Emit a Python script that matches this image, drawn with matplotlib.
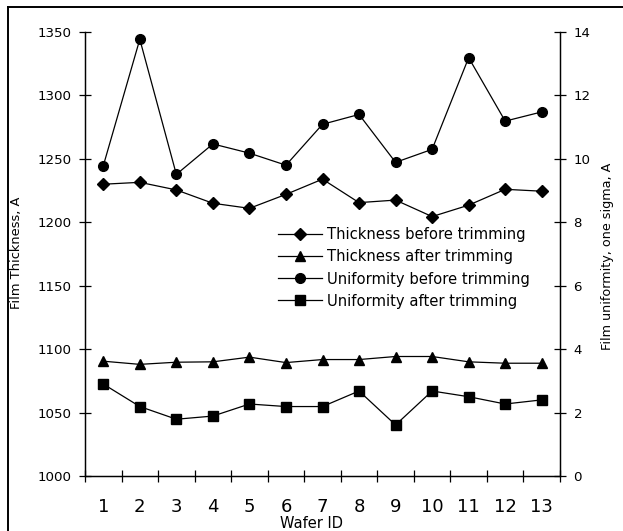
import matplotlib
matplotlib.use("Agg")
import matplotlib.pyplot as plt
from matplotlib.lines import Line2D
from matplotlib.ticker import FixedLocator, MultipleLocator

plt.rcParams['font.family'] = ['DejaVu Sans']

wafer_ids = list(range(1, 14))
thickness_before = [1230, 1231.5, 1225.5, 1215, 1211, 1222, 1234, 1215.5, 1217.5, 1204.5, 1213.5, 1226, 1224.5]
thickness_after = [1090.5, 1088, 1089.7, 1090, 1093.7, 1089.4, 1091.8, 1091.8, 1094.2, 1094.2, 1090, 1088.9, 1088.9]
uniformity_before = [9.78, 13.77, 9.51, 10.47, 10.18, 9.80, 11.09, 11.40, 9.89, 10.30, 13.19, 11.19, 11.48]
uniformity_after = [2.90, 2.19, 1.79, 1.89, 2.27, 2.19, 2.19, 2.68, 1.61, 2.68, 2.50, 2.27, 2.40]

labels = ["Thickness before trimming", "Thickness after trimming",
          "Uniformity before trimming", "Uniformity after trimming"]

W, H = 623, 531
fig = plt.figure(figsize=(W / 100, H / 100), dpi=100)
ax = fig.add_axes([85 / W, 1 - 476 / H, (560 - 85) / W, (476 - 32) / H])
ax2 = ax.twinx()

lw = 0.9
l1, = ax.plot(wafer_ids, thickness_before, color='black', lw=lw, marker='D', ms=6.2, label=labels[0])
l2, = ax.plot(wafer_ids, thickness_after, color='black', lw=lw, marker='^', ms=7.5, label=labels[1])
l3, = ax2.plot(wafer_ids, uniformity_before, color='black', lw=lw, marker='o', ms=7, label=labels[2])
l4, = ax2.plot(wafer_ids, uniformity_after, color='black', lw=lw, marker='s', ms=7.2, label=labels[3])

ax.set_xlim(0.5, 13.5)
ax.set_ylim(1000, 1350)
ax2.set_ylim(0, 14)

ax.yaxis.set_major_locator(MultipleLocator(50))
ax2.yaxis.set_major_locator(MultipleLocator(2))
ax.set_xticks(wafer_ids)
ax.xaxis.set_minor_locator(FixedLocator([i + 0.5 for i in range(0, 14)]))

for a in (ax, ax2):
    a.spines['top'].set_visible(False)
    for s in a.spines.values():
        s.set_linewidth(0.9)

ax.tick_params(axis='x', which='major', length=0, pad=16, labelsize=13)
ax.tick_params(axis='x', which='minor', length=8.5, direction='inout', width=0.9)
ax.tick_params(axis='y', which='major', length=8.5, direction='inout', width=0.9, pad=5.5, labelsize=9.6)
ax2.tick_params(axis='y', which='major', length=8.5, direction='inout', width=0.9, pad=5.5, labelsize=9.6)

ax.set_ylabel("Film Thickness, A", fontsize=9.4)
ax.yaxis.set_label_coords(17 / W, 1 - 253 / H, transform=fig.transFigure)
ax2.set_ylabel("Film uniformity, one sigma, A", fontsize=9.2)
ax2.yaxis.set_label_coords(607 / W, 1 - 256 / H, transform=fig.transFigure)
ax.set_xlabel("Wafer ID", fontsize=10.5)
ax.xaxis.set_label_coords(0.5, 1 - 523 / H, transform=fig.transFigure)
ax.xaxis.label.set_va('center')
ax.yaxis.label.set_va('center')
ax2.yaxis.label.set_va('center')

leg = fig.legend(handles=[l1, l2, l3, l4], loc='center left',
                 bbox_to_anchor=(278 / W, 1 - 268 / H), frameon=False,
                 fontsize=10.6, handlelength=3.0, handletextpad=0.35,
                 labelspacing=0.48, borderpad=0, borderaxespad=0, numpoints=1)

# outer border of the figure
fig.add_artist(Line2D([7.5 / W, 7.5 / W], [0, 1 - 7 / H], transform=fig.transFigure, color='black', lw=1.4))
fig.add_artist(Line2D([7.5 / W, 1], [1 - 7 / H, 1 - 7 / H], transform=fig.transFigure, color='black', lw=1.4))

fig.savefig("out.png", dpi=100)
